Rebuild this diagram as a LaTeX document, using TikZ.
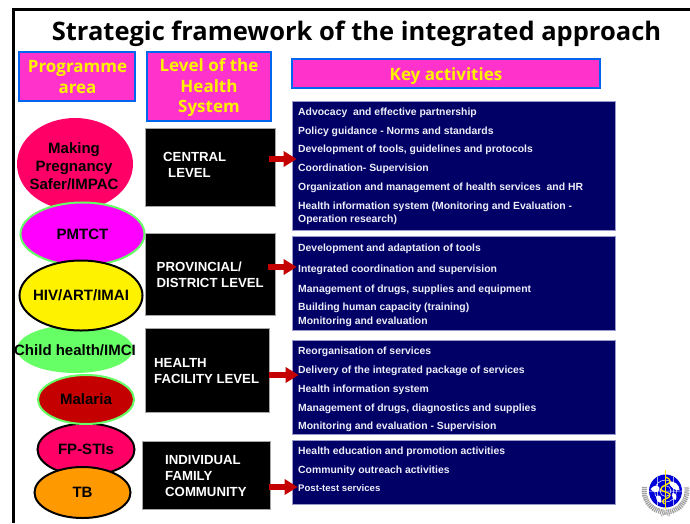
\documentclass[tikz,border=0pt]{standalone}
\usepackage{fontspec}
\setmainfont{Liberation Sans}
\newfontfamily\headfont{Open Sans}
\usetikzlibrary{arrows.meta,calc,shapes.geometric}
\definecolor{pinkhead}{HTML}{FF33CC}
\definecolor{bluehead}{HTML}{0066EE}
\definecolor{navybox}{HTML}{000066}
\definecolor{navyedge}{HTML}{9999CC}
\definecolor{acttext}{HTML}{EEEEFA}
\definecolor{rose}{HTML}{FF0066}
\definecolor{lightgreen}{HTML}{66FF66}
\definecolor{arrowred}{HTML}{C40000}
\definecolor{fuchsia}{HTML}{FF00FF}
\definecolor{tborange}{HTML}{FF9900}
\tikzset{
  headbox/.style={draw=bluehead,line width=1.4pt,fill=pinkhead,inner sep=0pt},
  headtext/.style={inner sep=0pt,text=yellow,align=center,font=\headfont\bfseries\fontsize{17}{20.5}\selectfont},
  levelbox/.style={draw=gray!70,line width=.6pt,fill=black,inner sep=0pt},
  leveltext/.style={text=white,align=left,anchor=west,inner sep=0pt,font=\bfseries\fontsize{13.2}{16}\selectfont},
  actbox/.style={draw=navyedge,line width=.7pt,fill=navybox,inner sep=0pt},
  acttxt/.style={text=acttext,anchor=west,inner sep=0pt,font=\bfseries\fontsize{10.4}{13}\selectfont},
  prog/.style={ellipse,inner sep=-14pt,text=black,align=center,font=\bfseries\fontsize{15}{18}\selectfont},
  flowarrow/.style={draw=arrowred,line width=5.5pt,-{Triangle[length=13pt,width=15pt,fill=arrowred]}},
}
\newcommand{\boxat}[6]{\node[#1,minimum width=#5 pt-#3 pt,minimum height=#6 pt-#4 pt] (#2) at ({(#3+#5)/2},{(#4+#6)/2}) {};}
\begin{document}
\begin{tikzpicture}[x=1pt,y=-1pt]
\useasboundingbox (0,0) rectangle (690,523);
\fill[white] (0,0) rectangle (690,523);
\draw[black,line width=3pt] (690,9.5) -- (13.5,9.5) -- (13.5,523);
\node[inner sep=0pt,font=\headfont\bfseries\fontsize{25.5}{30}\selectfont] (title) at (356.5,33.5) {Strategic framework of the integrated approach};
% headers
\node[headbox,minimum width=116pt,minimum height=49pt] (hprog) at (77,76.5) {};
\node[headtext] (hprogt) at (77.5,77) {Programme\\area};
\node[headbox,minimum width=124pt,minimum height=69pt] (hlevel) at (209,86.5) {};
\node[headtext] (hlevelt) at (209,88) {Level of the\\Health\\System};
\node[headbox,minimum width=308pt,minimum height=29pt] (hkey) at (446,73.5) {};
\node[headtext] (hkeyt) at (446,76) {Key activities};
% programme ellipses
\node[prog,fill=rose,minimum width=116pt,minimum height=92pt] (making) at (75,164) {};
\node[inner sep=0pt,align=center,font=\bfseries\fontsize{15}{18}\selectfont] (makingt) at (74,166) {Making\\Pregnancy\\Safer/IMPAC};
\node[prog,fill=fuchsia,draw=lightgreen,line width=2pt,minimum width=124pt,minimum height=63pt] (pmtct) at (82.5,234) {PMTCT};
\node[prog,fill=lightgreen,minimum width=116pt,minimum height=48pt] (child) at (75,349) {};
\node[inner sep=0pt,font=\bfseries\fontsize{15}{18}\selectfont] (childt) at (75,350) {Child health/IMCI};
\node[prog,fill=yellow,draw=black,line width=2pt,minimum width=123pt,minimum height=70pt] (hiv) at (81,295.5) {HIV/ART/IMAI};
\node[prog,fill=rose,draw=black,line width=2pt,minimum width=97pt,minimum height=52pt] (fp) at (86,449.5) {FP-STIs};
\node[prog,fill=arrowred,draw=lightgreen,line width=2pt,minimum width=96pt,minimum height=49pt] (malaria) at (86,399.5) {Malaria};
\node[prog,fill=tborange,draw=black,line width=2pt,minimum width=96pt,minimum height=51pt] (tb) at (82.5,492.5) {TB};
% level boxes
\boxat{levelbox}{central}{145}{128}{275}{206}
\boxat{levelbox}{provincial}{145}{233.5}{275}{315}
\boxat{levelbox}{facility}{145}{328}{269}{412}
\boxat{levelbox}{individual}{142}{441}{270}{509}
\node[leveltext] (centralt) at (163,156.5) {CENTRAL};
\node[leveltext] (centralu) at (168,172.5) {LEVEL};
\node[leveltext] (provt) at (156.5,274.5) {PROVINCIAL/\\DISTRICT LEVEL};
\node[leveltext] (healtht) at (154,371.5) {HEALTH\\FACILITY LEVEL};
\node[leveltext] (indt) at (165,476) {INDIVIDUAL\\FAMILY\\COMMUNITY};
% activity boxes
\boxat{actbox}{act1}{292}{101}{615}{230}
\boxat{actbox}{act2}{292}{236}{615}{330}
\boxat{actbox}{act3}{292}{340}{615}{434}
\boxat{actbox}{act4}{292}{440}{615}{504}
\node[acttxt] (a11) at (298,112.5) {Advocacy\ \ and effective partnership};
\node[acttxt] (a12) at (298,131.5) {Policy guidance - Norms and standards};
\node[acttxt] (a13) at (298,149.5) {Development of tools, guidelines and protocols};
\node[acttxt] (a14) at (298,168.5) {Coordination- Supervision};
\node[acttxt] (a15) at (298,187.5) {Organization and management of health services\ \ and HR};
\node[acttxt,align=left] (a16) at (298,213) {Health information system (Monitoring and Evaluation -\\Operation research)};
\node[acttxt] (a21) at (298,248.5) {Development and adaptation of tools};
\node[acttxt] (a22) at (298,269.5) {Integrated coordination and supervision};
\node[acttxt] (a23) at (298,289.5) {Management of drugs, supplies and equipment};
\node[acttxt] (a24) at (298,307.5) {Building human capacity (training)};
\node[acttxt] (a25) at (298,321.5) {Monitoring and evaluation};
\node[acttxt] (a31) at (298,351.5) {Reorganisation of services};
\node[acttxt] (a32) at (298,370.5) {Delivery of the integrated package of services};
\node[acttxt] (a33) at (298,389.5) {Health information system};
\node[acttxt] (a34) at (298,408.5) {Management of drugs, diagnostics and supplies};
\node[acttxt] (a35) at (298,426.5) {Monitoring and evaluation - Supervision};
\node[acttxt] (a41) at (298,451.5) {Health education and promotion activities};
\node[acttxt] (a42) at (298,470.5) {Community outreach activities};
\node[acttxt,font=\bfseries\fontsize{9.6}{11}\selectfont] (a43) at (298,488.5) {Post-test services};
% arrows
\draw[flowarrow] ($(central.east)+(-6,-8)$) -- ($(act1.west)+(5,-6.5)$);
\draw[flowarrow] ($(provincial.east)+(-7,-7.25)$) -- ($(act2.west)+(5,-16)$);
\draw[flowarrow] ($(facility.east)+(0,5)$) -- ($(act3.west)+(7,-12)$);
\draw[flowarrow] ($(individual.east)+(-1,12)$) -- ($(act4.west)+(6,15)$);
% emblem
\begin{scope}[shift={(665.5,491)}]
  \draw[gray!75,line width=5pt,dash pattern=on 1.2pt off .8pt] (-21,-4) arc[start angle=190,end angle=-10,radius=21.4];
  \draw[gray!60,line width=2.5pt,dash pattern=on 1pt off 1pt] (0,22) -- (-5,25) (0,22) -- (5,25);
  \fill[blue!85!black] (0,0) circle (16.5);
  \draw[white,line width=.5pt] (0,0) circle (11) (0,0) circle (5.5) (-16.5,0) -- (16.5,0) (-8,-14) -- (-8,14) (8,-14) -- (8,14);
  \fill[white] (-15,-2) .. controls (-10,-8) and (-5,-5) .. (-6,-1) .. controls (-8,2) and (-12,2) .. cycle;
  \fill[white] (-9,5) .. controls (-5,3) and (-3,7) .. (-5,12) .. controls (-8,11) and (-10,8) .. cycle;
  \fill[white] (3,-9) .. controls (9,-11) and (14,-6) .. (14,-1) .. controls (10,0) and (5,-3) .. cycle;
  \fill[white] (7,2) .. controls (11,2) and (12,6) .. (10,9) .. controls (7,8) and (6,5) .. cycle;
  \draw[yellow!90!orange,line width=1.6pt] (0,-21) -- (0,18);
  \draw[yellow!90!orange,line width=1.3pt] (0,-14) .. controls (6,-12) and (6,-8) .. (0,-6) .. controls (-6,-4) and (-6,0) .. (0,1) .. controls (6,2) and (6,6) .. (0,8) .. controls (-3,9) and (-4,11) .. (-1,13);
\end{scope}
\end{tikzpicture}
\end{document}
